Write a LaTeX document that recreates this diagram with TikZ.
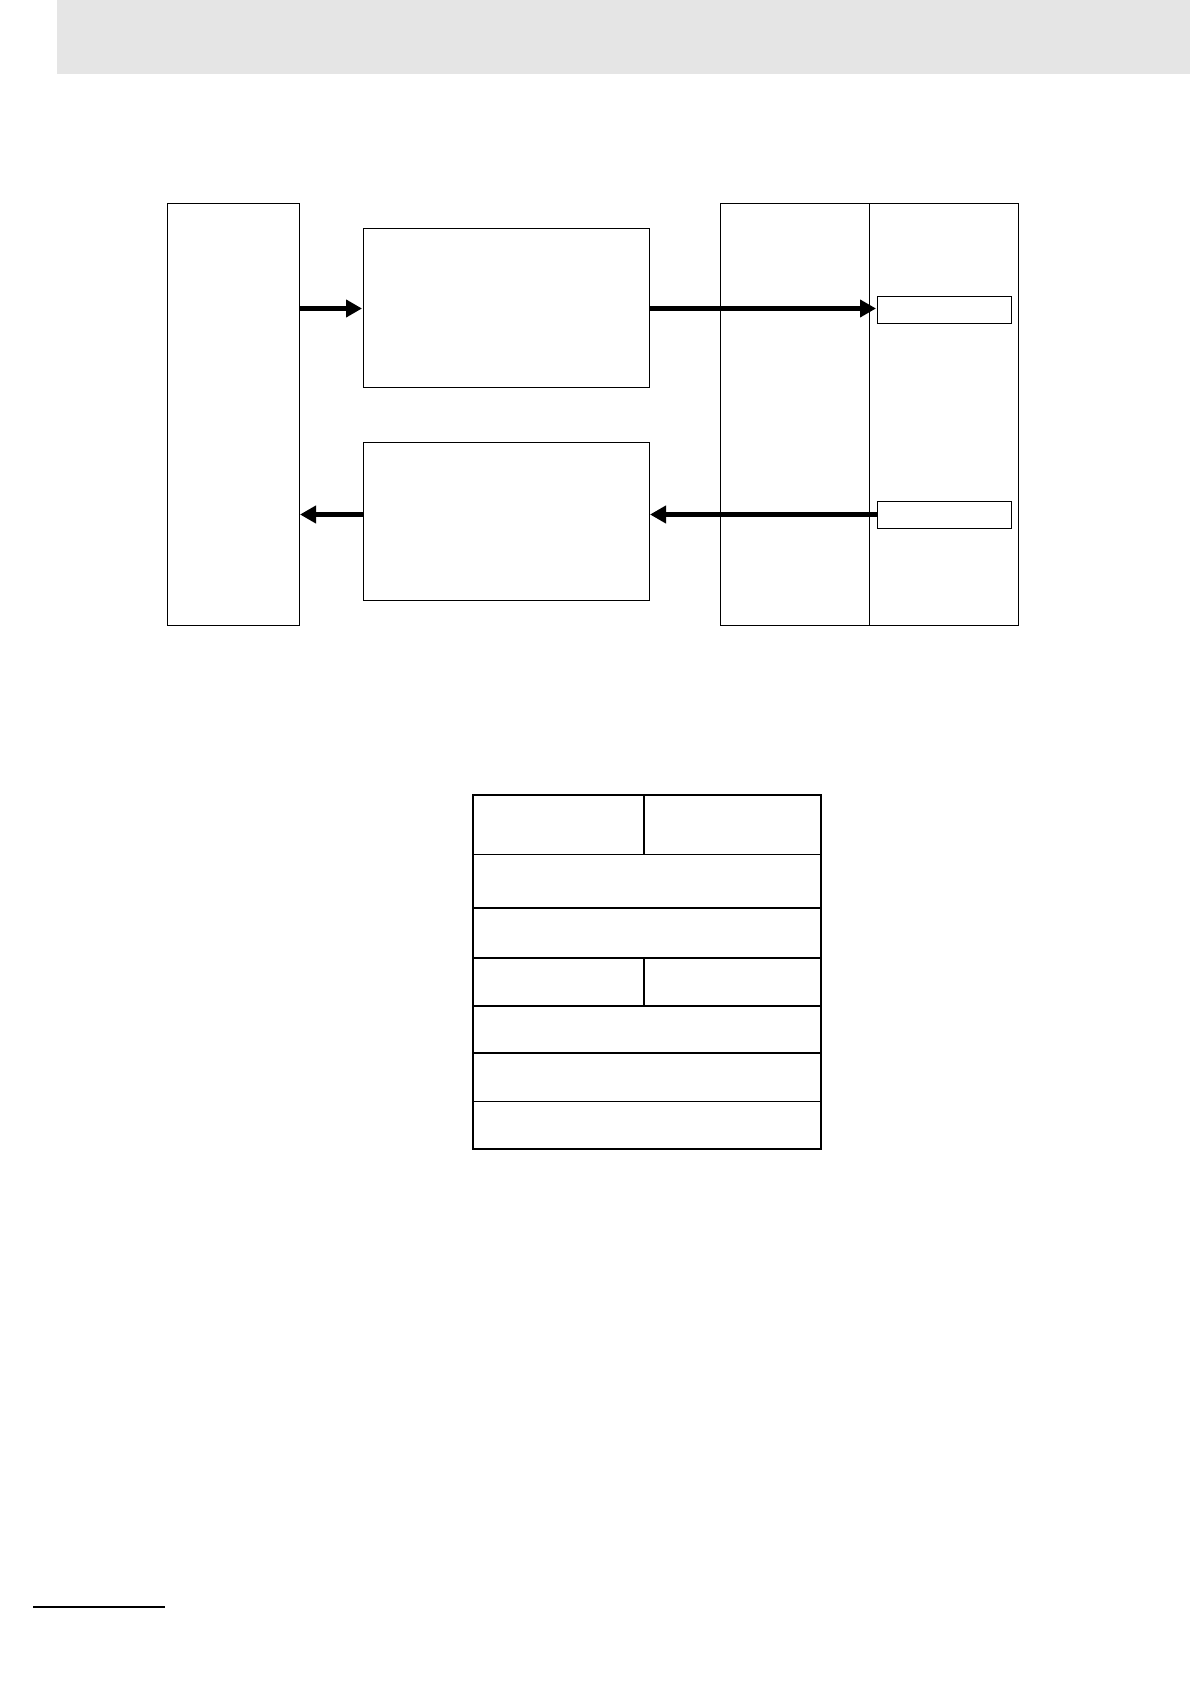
\documentclass[tikz,border=0pt]{standalone}
\usepackage{tikz}
\usetikzlibrary{arrows.meta}

\begin{document}
\begin{tikzpicture}[x=0.5pt, y=-0.5pt,
    blk/.style={draw, line width=0.5pt, inner sep=0pt, outer sep=0pt},
    bus/.style={line width=2.5pt, -{Triangle[length=8pt, width=8.5pt]}, shorten >=0.5pt}]
            \useasboundingbox (0,0) rectangle (1190,1684);

            % Header band
            \fill[black!10] (57,0) rectangle (1190,74);

            % Blocks
            \node[blk, minimum width=66pt, minimum height=210.5pt] (host) at (233,414.5) {};
            \node[blk, minimum width=143pt, minimum height=79.5pt] (txblk) at (506,308.5) {};
            \node[blk, minimum width=143pt, minimum height=78.5pt] (rxblk) at (506,521.5) {};
            \node[blk, minimum width=74.5pt, minimum height=210.5pt] (devL) at (794.5,414.5) {};
            \node[blk, minimum width=74.5pt, minimum height=210.5pt] (devR) at (943.5,414.5) {};
            \node[blk, minimum width=67pt, minimum height=13.5pt] (portA) at (944,310) {};
            \node[blk, minimum width=67pt, minimum height=13.5pt] (portB) at (944,514.5) {};

            % Arrows
            \draw[bus] (host.east |- txblk.west) -- (txblk.west);
            \draw[bus] (txblk.east) -- (txblk.east -| portA.west);
            \draw[bus] (portB.west) -- (portB.west -| rxblk.east);
            \draw[bus] (rxblk.west |- portB.west) -- (host.east |- portB.west);

            % Frame table
            \draw[line width=0.85pt] (473,908) -- (821,908);
            \draw[line width=0.85pt] (473,958) -- (821,958);
            \draw[line width=0.85pt] (473,1006) -- (821,1006);
            \draw[line width=0.85pt] (473,1053) -- (821,1053);
            \draw[line width=0.5pt] (473,854) -- (821,854);
            \draw[line width=0.5pt] (473,1101) -- (821,1101);
            \draw[line width=1.2pt] (644,795) -- (644,854);
            \draw[line width=1.2pt] (644,958) -- (644,1006);
            \draw[line width=1.4pt] (473,795) rectangle (821,1149);

            % Footer rule
            \draw[line width=1pt] (33,1607) -- (165,1607);
\end{tikzpicture}
\end{document}
